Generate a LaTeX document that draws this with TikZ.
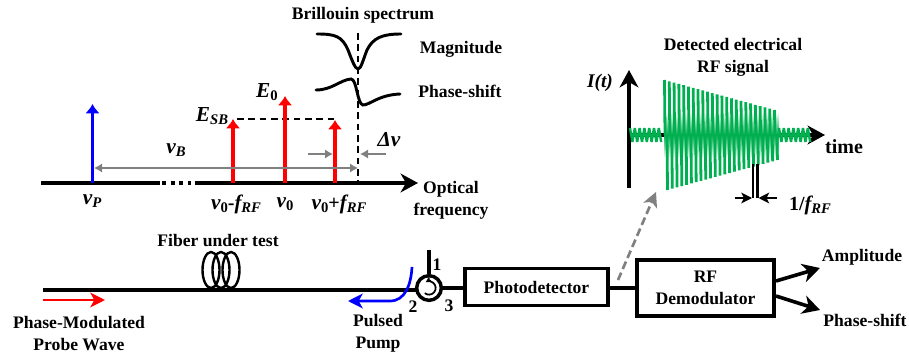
\documentclass[tikz,border=0pt]{standalone}
\usepackage{fontspec}
\setmainfont{Liberation Serif}
\usetikzlibrary{arrows.meta}
\definecolor{sig}{HTML}{00B050}
\definecolor{gry}{HTML}{808080}
\newcommand{\idx}[1]{\raisebox{-0.4ex}{\fontsize{11}{11}\selectfont\bfseries\itshape #1}}
\newcommand{\idz}{\raisebox{-0.4ex}{\fontsize{11}{11}\selectfont\bfseries 0}}
\newcommand{\nuu}{{\fontsize{16}{16}\selectfont\bfseries\itshape ν}}
\newcommand{\ff}{{\fontsize{15.5}{16}\selectfont\bfseries\itshape f}}
\newcommand{\EE}{{\fontsize{16}{16}\selectfont\bfseries\itshape E}}
\tikzset{
 lab/.style={inner sep=0pt,font=\fontsize{13.2}{16.5}\selectfont\bfseries,align=center},
 mlab/.style={inner sep=0pt,font=\fontsize{13.2}{16.5}\selectfont\bfseries},
 blackline/.style={line width=2.7pt,black},
 uptip/.style={-{Latex[length=7pt,width=11pt]}},
 redup/.style={line width=2.7pt,red,uptip},
 blueup/.style={line width=2.4pt,blue,uptip},
 gryarrow/.style={line width=1.9pt,gry,-{Latex[length=6pt,width=7pt]}},
 grydouble/.style={line width=1.9pt,gry,{Latex[length=6pt,width=7pt]}-{Latex[length=6pt,width=7pt]}},
 blkarrow/.style={line width=2.7pt,black,-{Stealth[length=13pt,width=14pt,inset=4pt]}},
 smallblk/.style={line width=1.6pt,black,-{Stealth[length=8pt,width=8pt,inset=2pt]}},
 vdash/.style={line width=1.3pt,dash pattern=on 5pt off 3.5pt},
 box/.style={draw,line width=2.6pt,inner sep=0pt,align=center,font=\fontsize{13.2}{16.5}\selectfont\bfseries},
 sigzig/.style={line width=1.8pt,sig,line join=bevel},
 sigbar/.style={line width=2.1pt,sig},
 coil/.style={line width=1.8pt,black},
 curve/.style={line width=2.2pt,line cap=round},
}
\begin{document}
\begin{tikzpicture}[x=0.75pt,y=-0.75pt]
\useasboundingbox (0,0) rectangle (909,356);
% spectrum axis
\coordinate (axA) at (41,183);
\coordinate (axB) at (160,183);
\coordinate (axC) at (195,183);
\coordinate (axD) at (418,183);
\coordinate (dotsA) at (162,183);
\coordinate (dotsB) at (191,183);
\draw[blackline] (axA) -- (axB);
\draw[line width=2.7pt,dash pattern=on 3.2pt off 3.2pt] (dotsA) -- (dotsB);
\draw[blkarrow] (axC) -- (axD);
% spectral lines
\coordinate (pb) at (92.5,183); \coordinate (pt) at (92.5,104);
\coordinate (lb) at (233,183); \coordinate (lt) at (233,119);
\coordinate (cb) at (285,183); \coordinate (ct) at (285,96);
\coordinate (ub) at (335,183); \coordinate (ut) at (335,120);
\draw[blueup] (pb) -- (pt);
\coordinate (dhA) at (237,119); \coordinate (dhB) at (335,119);
\draw[vdash] (dhA) -- (dhB);
\draw[redup] (lb) -- (lt);
\draw[redup] (cb) -- (ct);
\draw[redup] (ub) -- (ut);
% Brillouin marker
\coordinate (vt) at (358,33); \coordinate (vb) at (358,183);
\draw[vdash] (vt) -- (vb);
\coordinate (gA) at (94,168); \coordinate (gB) at (358,168);
\draw[grydouble] (gA) -- (gB);
\coordinate (g1a) at (308,154); \coordinate (g1b) at (333,154);
\coordinate (g2a) at (386,154); \coordinate (g2b) at (360,154);
\draw[gryarrow] (g1a) -- (g1b);
\draw[gryarrow] (g2a) -- (g2b);
% curves
\draw[curve] (317,34) .. controls (335,34) and (342,36) .. (348,50)
  .. controls (352,60) and (355,69) .. (358,69) .. controls (361,69) and (363,60) .. (367,50)
  .. controls (373,38) and (382,34) .. (401,34);
\draw[curve] (316,90) .. controls (332,90) and (340,80) .. (351,79)
  .. controls (357,79) and (357,104) .. (363,105) .. controls (370,105) and (378,95) .. (400,94);
% labels top
\node[lab] (bs) at (363,15) {Brillouin spectrum};
\node[lab] (mag) at (461,49) {Magnitude};
\node[lab] (ps) at (460,91) {Phase-shift};
\node[lab] (of) at (451,200) {Optical\\frequency};
\node[mlab] (np) at (92,201) {\nuu\idx{P}};
\node[mlab] (nb) at (176,150) {\nuu\idx{B}};
\node[mlab] (esb) at (212,116) {\EE\idx{SB}};
\node[mlab] (e0) at (267,92) {\EE\idz};
\node[mlab] (dn) at (389,140) {{\fontsize{16}{16}\selectfont\bfseries\itshape Δν}};
\node[mlab] (l1) at (236,204) {\nuu\idz{\fontsize{15}{16}\selectfont\bfseries -}\ff\idx{RF}};
\node[mlab] (l2) at (285,204) {\nuu\idz};
\node[mlab] (l3) at (339,204) {\nuu\idz{\fontsize{15}{16}\selectfont\bfseries +}\ff\idx{RF}};
% signal panel
\node[lab] (det) at (733,57) {Detected electrical\\RF signal};
\node[mlab,font=\fontsize{14.5}{16}\selectfont\bfseries\itshape] (it) at (600,83) {I(t)};
\node[mlab,font=\fontsize{15}{16}\selectfont\bfseries] (tm) at (844,147) {time};
\coordinate (yA) at (629,188); \coordinate (yB) at (629,70);
\coordinate (xA) at (629,135); \coordinate (xB) at (825,135);
\draw[blkarrow] (yA) -- (yB);
\draw[blkarrow] (xA) -- (xB);
\draw[sigzig] (630,128) \foreach \i in {0,...,6}{ -- ({630+4.8*\i},128) -- ({632.4+4.8*\i},142)};
\shade[top color=white,bottom color=sig] (664,112) rectangle (779,135);
\shade[top color=sig,bottom color=white] (664,135) rectangle (779,158);
\foreach \i in {0,...,23}{
  \draw[sigbar] ({664.5+4.78*\i},{80+30*\i/23}) -- ({665+4.78*\i},{135});
  \draw[sigbar] ({667+4.78*\i},{135}) -- ({667.5+4.78*\i},{190-30*\i/23});
}
\draw[sigzig] (779,128) \foreach \i in {0,...,6}{ -- ({779+4.8*\i},128) -- ({781.4+4.8*\i},142)};
% period marks
\coordinate (p1t) at (753,164); \coordinate (p1b) at (753,198);
\coordinate (p2t) at (757.5,164); \coordinate (p2b) at (757.5,198);
\draw[line width=1.9pt] (p1t) -- (p1b);
\draw[line width=1.9pt] (p2t) -- (p2b);
\coordinate (pa) at (735,198); \coordinate (pb2) at (752,198);
\coordinate (qa) at (777,198); \coordinate (qb) at (758.5,198);
\draw[smallblk] (pa) -- (pb2);
\draw[smallblk] (qa) -- (qb);
\node[mlab] (per) at (810,205) {{\fontsize{15}{16}\selectfont\bfseries 1/}\ff\idx{RF}};
% bottom chain
\node[draw,circle,line width=2.6pt,minimum size=18.5pt,inner sep=0pt] (circ) at (429,288) {};
\node[box,minimum width=107pt,minimum height=28pt] (pd) at (536.5,287) {Photodetector};
\node[box,minimum width=103pt,minimum height=42pt] (rf) at (705.5,288) {RF\\Demodulator};
\coordinate (fA) at (43,290);
\coordinate (fB) at (416,290);
\coordinate (top) at (429,250);
\coordinate (pdr) at (636,288);
\draw[blackline] (fA) -- (fB);
\draw[blackline] (top) -- (circ.north);
\draw[blackline] (circ.east) -- (circ.east -| pd.west);
\draw[blackline] (pd.east |- pdr) -- (rf.west |- pdr);
\draw[line width=1.3pt,-{Stealth[length=4.5pt,width=5pt,inset=1pt]}] (circ.center) ++(-130:5pt) arc[start angle=-130,end angle=120,radius=5pt];
% coil
\draw[coil] (211,270) ellipse[x radius=8.5,y radius=18];
\draw[coil] (221,270) ellipse[x radius=8.5,y radius=18];
\draw[coil] (231,270) ellipse[x radius=8.5,y radius=18];
\node[lab] (fut) at (218,240) {Fiber under test};
% probe and pump
\coordinate (rA) at (43,300); \coordinate (rB) at (105,300);
\draw[line width=2pt,red,-{Stealth[length=11pt,width=11pt,inset=3pt]}] (rA) -- (rB);
\node[lab] (probe) at (79,334) {Phase-Modulated\\Probe Wave};
\coordinate (pumpA) at (412,267); \coordinate (pumpB) at (348,301);
\draw[line width=2pt,blue,-{Stealth[length=11pt,width=11pt,inset=3pt]}] (pumpA) .. controls (411,285) and (405,301) .. (390,301) -- (pumpB);
\node[lab] (pump) at (378,333.5) {Pulsed\\Pump};
\node[lab] (n1) at (437,265) {1};
\node[lab] (n2) at (413,307) {2};
\node[lab] (n3) at (449,306) {3};
% outputs
\coordinate (a1) at (776,281); \coordinate (a2) at (820,268);
\coordinate (b1) at (776,296); \coordinate (b2) at (820,310);
\draw[blkarrow] (a1) -- (a2);
\draw[blkarrow] (b1) -- (b2);
\node[lab] (amp) at (862,257) {Amplitude};
\node[lab] (pso) at (865,320) {Phase-shift};
% dashed gray
\coordinate (da) at (618,280); \coordinate (db) at (656,192);
\draw[line width=2pt,gry,dash pattern=on 6pt off 3pt,-{Stealth[length=11pt,width=11pt,inset=3pt]}] (da) -- (db);
\end{tikzpicture}
\end{document}
